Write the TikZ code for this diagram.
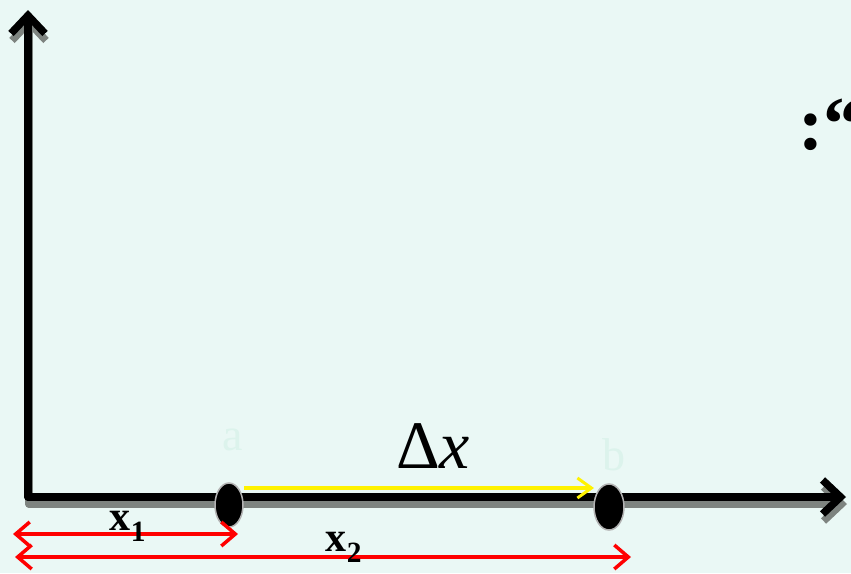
\documentclass[tikz,border=0pt]{standalone}
\usepackage{fontspec}
\setmainfont{Liberation Serif}
\usetikzlibrary{arrows.meta,shapes.geometric}
\definecolor{bg}{HTML}{EAF8F5}
\definecolor{faint}{HTML}{DCF3EC}
\definecolor{shad}{HTML}{7E8480}
\tikzset{
  axis/.style={line width=7.5pt, line cap=round, -{Straight Barb[length=18pt,width=34pt,line width=7.5pt]}},
  redarr/.style={red, line width=3.5pt, {Straight Barb[length=14pt,width=24pt,line width=3.5pt]}-{Straight Barb[length=14pt,width=24pt,line width=3.5pt]}},
  yelarr/.style={yellow, line width=4pt, -{Straight Barb[length=14pt,width=20pt,line width=3pt]}},
  dot/.style={ellipse, fill=black, draw=gray!60, line width=1.5pt, minimum width=28pt, minimum height=44pt, inner sep=0pt},
  lbl/.style={inner sep=0pt}
}
\begin{document}
\begin{tikzpicture}[x=1pt,y=-1pt]
\fill[bg] (0,0) rectangle (851,573);
\useasboundingbox (0,0) rectangle (851,573);
% coordinates
\coordinate (O) at (28,497);
\coordinate (Ytop) at (28,10);
\coordinate (Xend) at (846,497);
\coordinate (Os) at (29,504);
\coordinate (Ytops) at (29,17);
\coordinate (Xends) at (847,504);
% shadows
\draw[axis, shad] (Os) -- (Xends);
\draw[axis, shad] (Os) -- (Ytops);
\draw[axis] (O) -- (Ytop);
\draw[axis] (O) -- (Xend);
% dots
\node[dot] (a) at (229,505) {};
\node[dot, minimum width=30pt, minimum height=46pt] (b) at (609,507) {};
% faint labels
\node[lbl, text=faint, font=\fontsize{46}{50}\selectfont] (la) at (233,440) {a};
\node[lbl, text=faint, font=\fontsize{46}{50}\selectfont] (lb) at (614,455) {b};
% yellow arrow
\coordinate (ys) at (244,488);
\coordinate (ye) at (594,488);
\draw[yelarr] (ys) -- (ye);
\node[lbl, font=\fontsize{68}{72}\selectfont] (dx) at (433,446) {Δ\textit{x}};
% red arrows
\coordinate (r1s) at (13,534);
\coordinate (r1e) at (238,534);
\coordinate (r2s) at (15,557);
\coordinate (r2e) at (631,557);
\draw[redarr] (r1s) -- (r1e);
\draw[redarr] (r2s) -- (r2e);
\node[lbl, font=\fontsize{42}{46}\selectfont\bfseries] (x1) at (128,526) {x\textsubscript{1}};
\node[lbl, font=\fontsize{42}{46}\selectfont\bfseries] (x2) at (344,547) {x\textsubscript{2}};
% top right fragment (cut off at the right edge, as in the reference)
\node[lbl, anchor=west, font=\fontsize{76}{80}\selectfont\bfseries] (frag) at (798,125) {:“};
\end{tikzpicture}
\end{document}
